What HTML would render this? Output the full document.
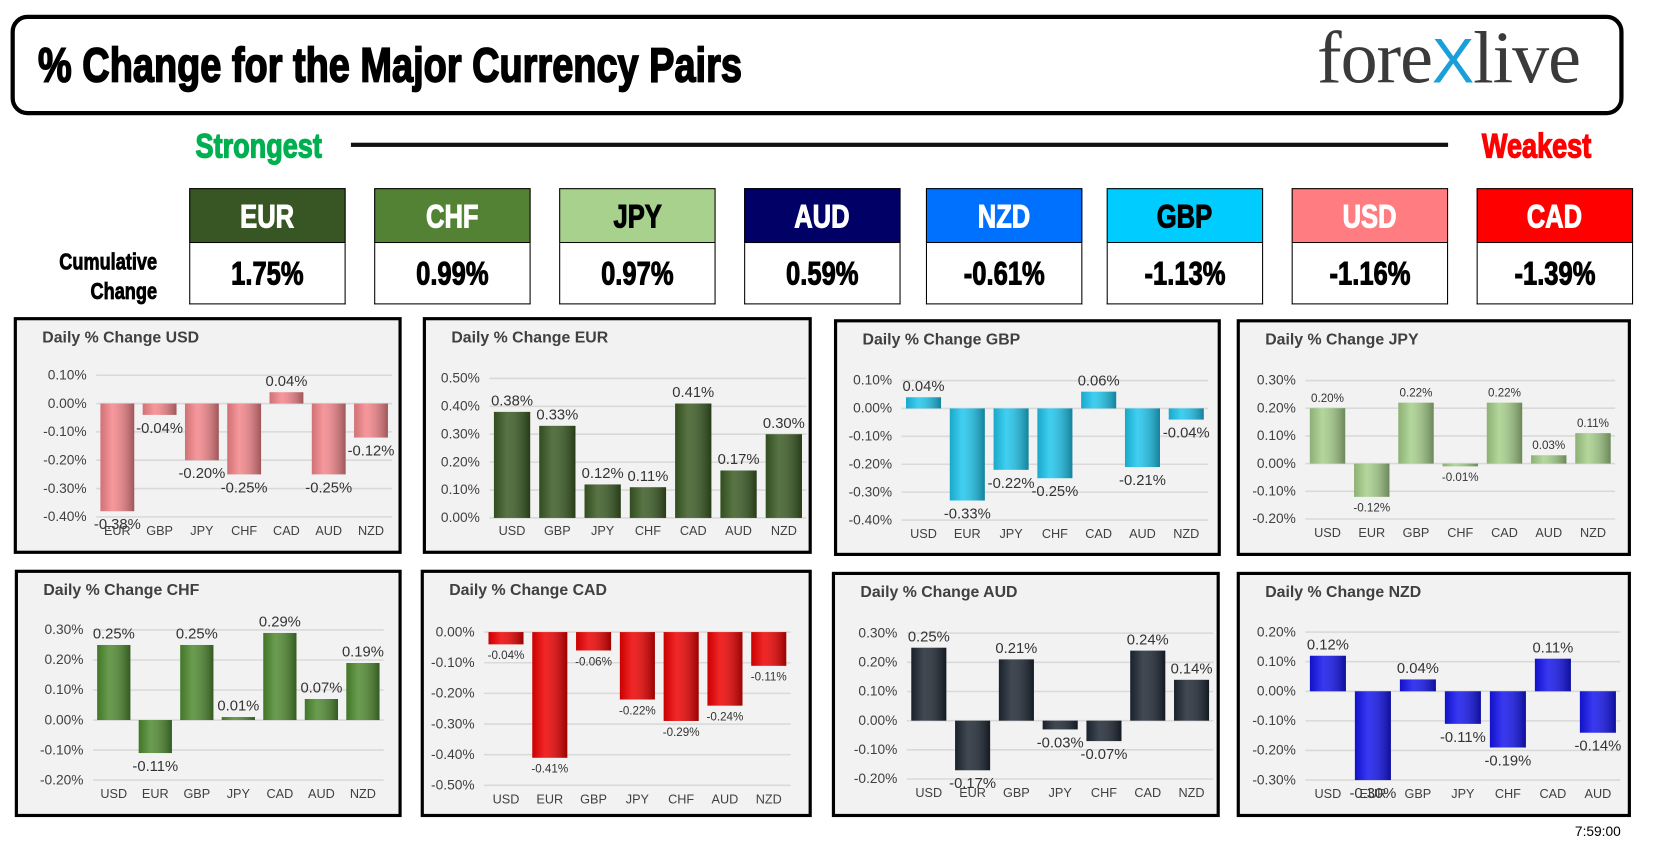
<!DOCTYPE html>
<html><head><meta charset="utf-8">
<style>
html,body{margin:0;padding:0;background:#fff;overflow:hidden}
#root{position:absolute;left:0;top:0;width:1560px;height:797px;transform:scale(1.057);transform-origin:0 0;font-family:"Liberation Sans",sans-serif}
.cond{display:inline-block;transform:scaleX(0.8);transform-origin:0 50%;font-weight:bold;white-space:nowrap;-webkit-text-stroke:1.2px currentColor}
.abs{position:absolute}
.hdr{position:absolute;height:52px;border:1px solid #000;box-sizing:border-box;text-align:center;font-weight:bold;font-size:31px;line-height:52px}
.val{position:absolute;height:58px;border:1px solid #000;border-top:none;box-sizing:border-box;background:#fff;text-align:center;font-weight:bold;font-size:31px;line-height:58px}
.hdr span,.val span{display:inline-block;transform:scaleX(0.78);-webkit-text-stroke:1px currentColor}
.panel{position:absolute;border:3px solid #000;box-sizing:border-box;background:#f2f2f2}
.ptitle{position:absolute;left:24px;top:8px;font-weight:bold;font-size:15px;color:#404040}
svg text{font-family:"Liberation Sans",sans-serif}
</style></head><body>
<div id="root">
<div class="abs" style="left:10px;top:14px;width:1526px;height:95px;border:4px solid #000;border-radius:16px;box-sizing:border-box"></div>
<div class="abs" style="left:36px;top:35px;font-size:46px;line-height:52px"><span class="cond" style="transform:scaleX(0.78);-webkit-text-stroke:1.6px #000">% Change for the Major Currency Pairs</span></div>
<div class="abs" style="left:1246px;top:16px;font-family:'Liberation Serif',serif;font-size:70px;color:#3a3a3a;letter-spacing:-1px">fore<span style="color:#1a9fd8;font-family:'Liberation Sans',sans-serif;font-size:60px">X</span>live</div>
<div class="abs" style="left:185px;top:120px;font-size:32px;color:#00b050"><span class="cond">Strongest</span></div>
<div class="abs" style="left:332px;top:135px;width:1038px;height:4px;background:#111"></div>
<div class="abs" style="left:1402px;top:120px;font-size:32px;color:#ff0000"><span class="cond">Weakest</span></div>
<div class="abs" style="left:30px;top:234px;width:118px;text-align:right;font-size:22px;line-height:28px;font-weight:bold"><span style="display:inline-block;transform:scaleX(0.78);transform-origin:100% 50%;-webkit-text-stroke:0.8px #000">Cumulative<br>Change</span></div>
<div id="boxes"></div>
<div id="panels"></div>
<div class="abs" style="left:1490px;top:779px;font-size:13px">7:59:00</div>
</div>
<script>
const boxCurrencies=["EUR","CHF","JPY","AUD","NZD","GBP","USD","CAD"];
const boxValues=["1.75%","0.99%","0.97%","0.59%","-0.61%","-1.13%","-1.16%","-1.39%"];
const boxX=[179,354,529,704,876,1047,1222,1397];
const boxBg=["#375623","#548235","#a9d18e","#000066","#0070ff","#00ccff","#ff7c80","#ff0000"];
const boxFg=["#fff","#fff","#000","#fff","#fff","#000","#fff","#fff"];
const bc=document.getElementById('boxes');
boxCurrencies.forEach((c,i)=>{
  const h=document.createElement('div');h.className='hdr';
  
  
  h.style.cssText=`left:${boxX[i]}px;top:178px;width:148px;background:${boxBg[i]};color:${boxFg[i]}`;
  h.innerHTML='<span>'+c+'</span>';bc.appendChild(h);
  const v=document.createElement('div');v.className='val';
  
  
  v.style.cssText=`left:${boxX[i]}px;top:230px;width:148px`;
  v.innerHTML='<span>'+boxValues[i]+'</span>';bc.appendChild(v);
});

const usdCats=["EUR","GBP","JPY","CHF","CAD","AUD","NZD"];
const usdVals=[-0.38,-0.04,-0.20,-0.25,0.04,-0.25,-0.12];
const eurCats=["USD","GBP","JPY","CHF","CAD","AUD","NZD"];
const eurVals=[0.38,0.33,0.12,0.11,0.41,0.17,0.30];
const gbpCats=["USD","EUR","JPY","CHF","CAD","AUD","NZD"];
const gbpVals=[0.04,-0.33,-0.22,-0.25,0.06,-0.21,-0.04];
const jpyCats=["USD","EUR","GBP","CHF","CAD","AUD","NZD"];
const jpyVals=[0.20,-0.12,0.22,-0.01,0.22,0.03,0.11];
const chfCats=["USD","EUR","GBP","JPY","CAD","AUD","NZD"];
const chfVals=[0.25,-0.11,0.25,0.01,0.29,0.07,0.19];
const cadCats=["USD","EUR","GBP","JPY","CHF","AUD","NZD"];
const cadVals=[-0.04,-0.41,-0.06,-0.22,-0.29,-0.24,-0.11];
const audCats=["USD","EUR","GBP","JPY","CHF","CAD","NZD"];
const audVals=[0.25,-0.17,0.21,-0.03,-0.07,0.24,0.14];
const nzdCats=["USD","EUR","GBP","JPY","CHF","CAD","AUD"];
const nzdVals=[0.12,-0.30,0.04,-0.11,-0.19,0.11,-0.14];
const usdTicks=[0.1,0,-0.1,-0.2,-0.3,-0.4];
const eurTicks=[0.5,0.4,0.3,0.2,0.1,0];
const gbpTicks=[0.1,0,-0.1,-0.2,-0.3,-0.4];
const jpyTicks=[0.3,0.2,0.1,0,-0.1,-0.2];
const chfTicks=[0.3,0.2,0.1,0,-0.1,-0.2];
const cadTicks=[0,-0.1,-0.2,-0.3,-0.4,-0.5];
const audTicks=[0.3,0.2,0.1,0,-0.1,-0.2];
const nzdTicks=[0.2,0.1,0,-0.1,-0.2,-0.3];

const panels=[
 {name:"USD",cats:usdCats,vals:usdVals,ticks:usdTicks,x:13,y:300,w:367,h:224,top:52,bot:186,l:75,r:355,lab:203,col:"#f4858a",fs:14},
 {name:"EUR",cats:eurCats,vals:eurVals,ticks:eurTicks,x:400,y:300,w:368,h:224,top:55,bot:187,l:60,r:360,lab:203,col:"#3a5a23",fs:14},
 {name:"GBP",cats:gbpCats,vals:gbpVals,ticks:gbpTicks,x:789,y:302,w:366,h:224,top:55,bot:187,l:61,r:351,lab:204,col:"#1ec6ee",fs:14},
 {name:"JPY",cats:jpyCats,vals:jpyVals,ticks:jpyTicks,x:1170,y:302,w:373,h:224,top:55,bot:186,l:62,r:355,lab:203,col:"#a6cf8a",fs:11},
 {name:"CHF",cats:chfCats,vals:chfVals,ticks:chfTicks,x:14,y:539,w:366,h:234,top:54,bot:196,l:71,r:346,lab:213,col:"#4f8a30",fs:14},
 {name:"CAD",cats:cadCats,vals:cadVals,ticks:cadTicks,x:398,y:539,w:370,h:234,top:56,bot:201,l:57,r:347,lab:218,col:"#ee0000",fs:11},
 {name:"AUD",cats:audCats,vals:audVals,ticks:audTicks,x:787,y:541,w:367,h:232,top:55,bot:193,l:68,r:358,lab:210,col:"#1e2733",fs:14},
 {name:"NZD",cats:nzdCats,vals:nzdVals,ticks:nzdTicks,x:1170,y:541,w:373,h:232,top:54,bot:194,l:62,r:360,lab:211,col:"#1414ee",fs:14}
];
const NS="http://www.w3.org/2000/svg";
const pc=document.getElementById('panels');
function mk(t,a){const e=document.createElementNS(NS,t);for(const k in a)e.setAttribute(k,a[k]);return e;}
panels.forEach((p,pi)=>{
  const d=document.createElement('div');d.className='panel';
  
  
  d.style.cssText=`left:${p.x}px;top:${p.y}px;width:${p.w}px;height:${p.h}px`;
  const t=document.createElement('div');t.className='ptitle';t.textContent='Daily % Change '+p.name;
  
  
  d.appendChild(t);
  const svg=mk('svg',{width:p.w-6,height:p.h-6,style:'position:absolute;left:0;top:0'});
  const defs=mk('defs',{});
  const sh=mk('linearGradient',{id:'s'+pi,x1:0,x2:1,y1:0,y2:0});
  sh.appendChild(mk('stop',{offset:0,'stop-color':'#000','stop-opacity':0.15}));
  sh.appendChild(mk('stop',{offset:0.35,'stop-color':'#fff','stop-opacity':0.15}));
  sh.appendChild(mk('stop',{offset:1,'stop-color':'#000','stop-opacity':0.35}));
  defs.appendChild(sh);svg.appendChild(defs);
  const mx=Math.max(...p.ticks),mn=Math.min(...p.ticks);
  const Y=v=>p.top+(mx-v)/(mx-mn)*(p.bot-p.top);
  const bw=(p.r-p.l)/p.cats.length;
  const X=i=>p.l+bw*(i+0.5);
  p.ticks.forEach(tv=>{
    const ln=mk('line',{x1:p.l,x2:p.r,y1:Y(tv),y2:Y(tv),stroke:'#d9d9d9','stroke-width':1.5});
    
    
    svg.appendChild(ln);
    const tx=mk('text',{x:p.l-9,y:Y(tv)+4,'text-anchor':'end','font-size':13,fill:'#404040'});
    tx.textContent=tv.toFixed(2)+'%';
    
    
    svg.appendChild(tx);
  });
  p.vals.forEach((v,i)=>{
    const y0=Y(0),y1=Y(v);
    const w=bw*0.8;
    const r=mk('rect',{x:X(i)-w/2,y:Math.min(y0,y1),width:w,height:Math.max(1.5,Math.abs(y1-y0)),fill:p.col});
    
    
    svg.appendChild(r);
    svg.appendChild(mk('rect',{x:X(i)-w/2,y:Math.min(y0,y1),width:w,height:Math.max(1.5,Math.abs(y1-y0)),fill:'url(#s'+pi+')'}));
    const lt=mk('text',{x:X(i),y:v>=0?y1-6:y1+p.fs+3,'text-anchor':'middle','font-size':p.fs,fill:'#333'});
    lt.textContent=v.toFixed(2)+'%';
    
    
    svg.appendChild(lt);
    const ct=mk('text',{x:X(i),y:p.lab,'text-anchor':'middle','font-size':12,fill:'#404040'});
    ct.textContent=p.cats[i];
    
    
    svg.appendChild(ct);
  });
  d.appendChild(svg);pc.appendChild(d);
});
</script>
</body></html>
